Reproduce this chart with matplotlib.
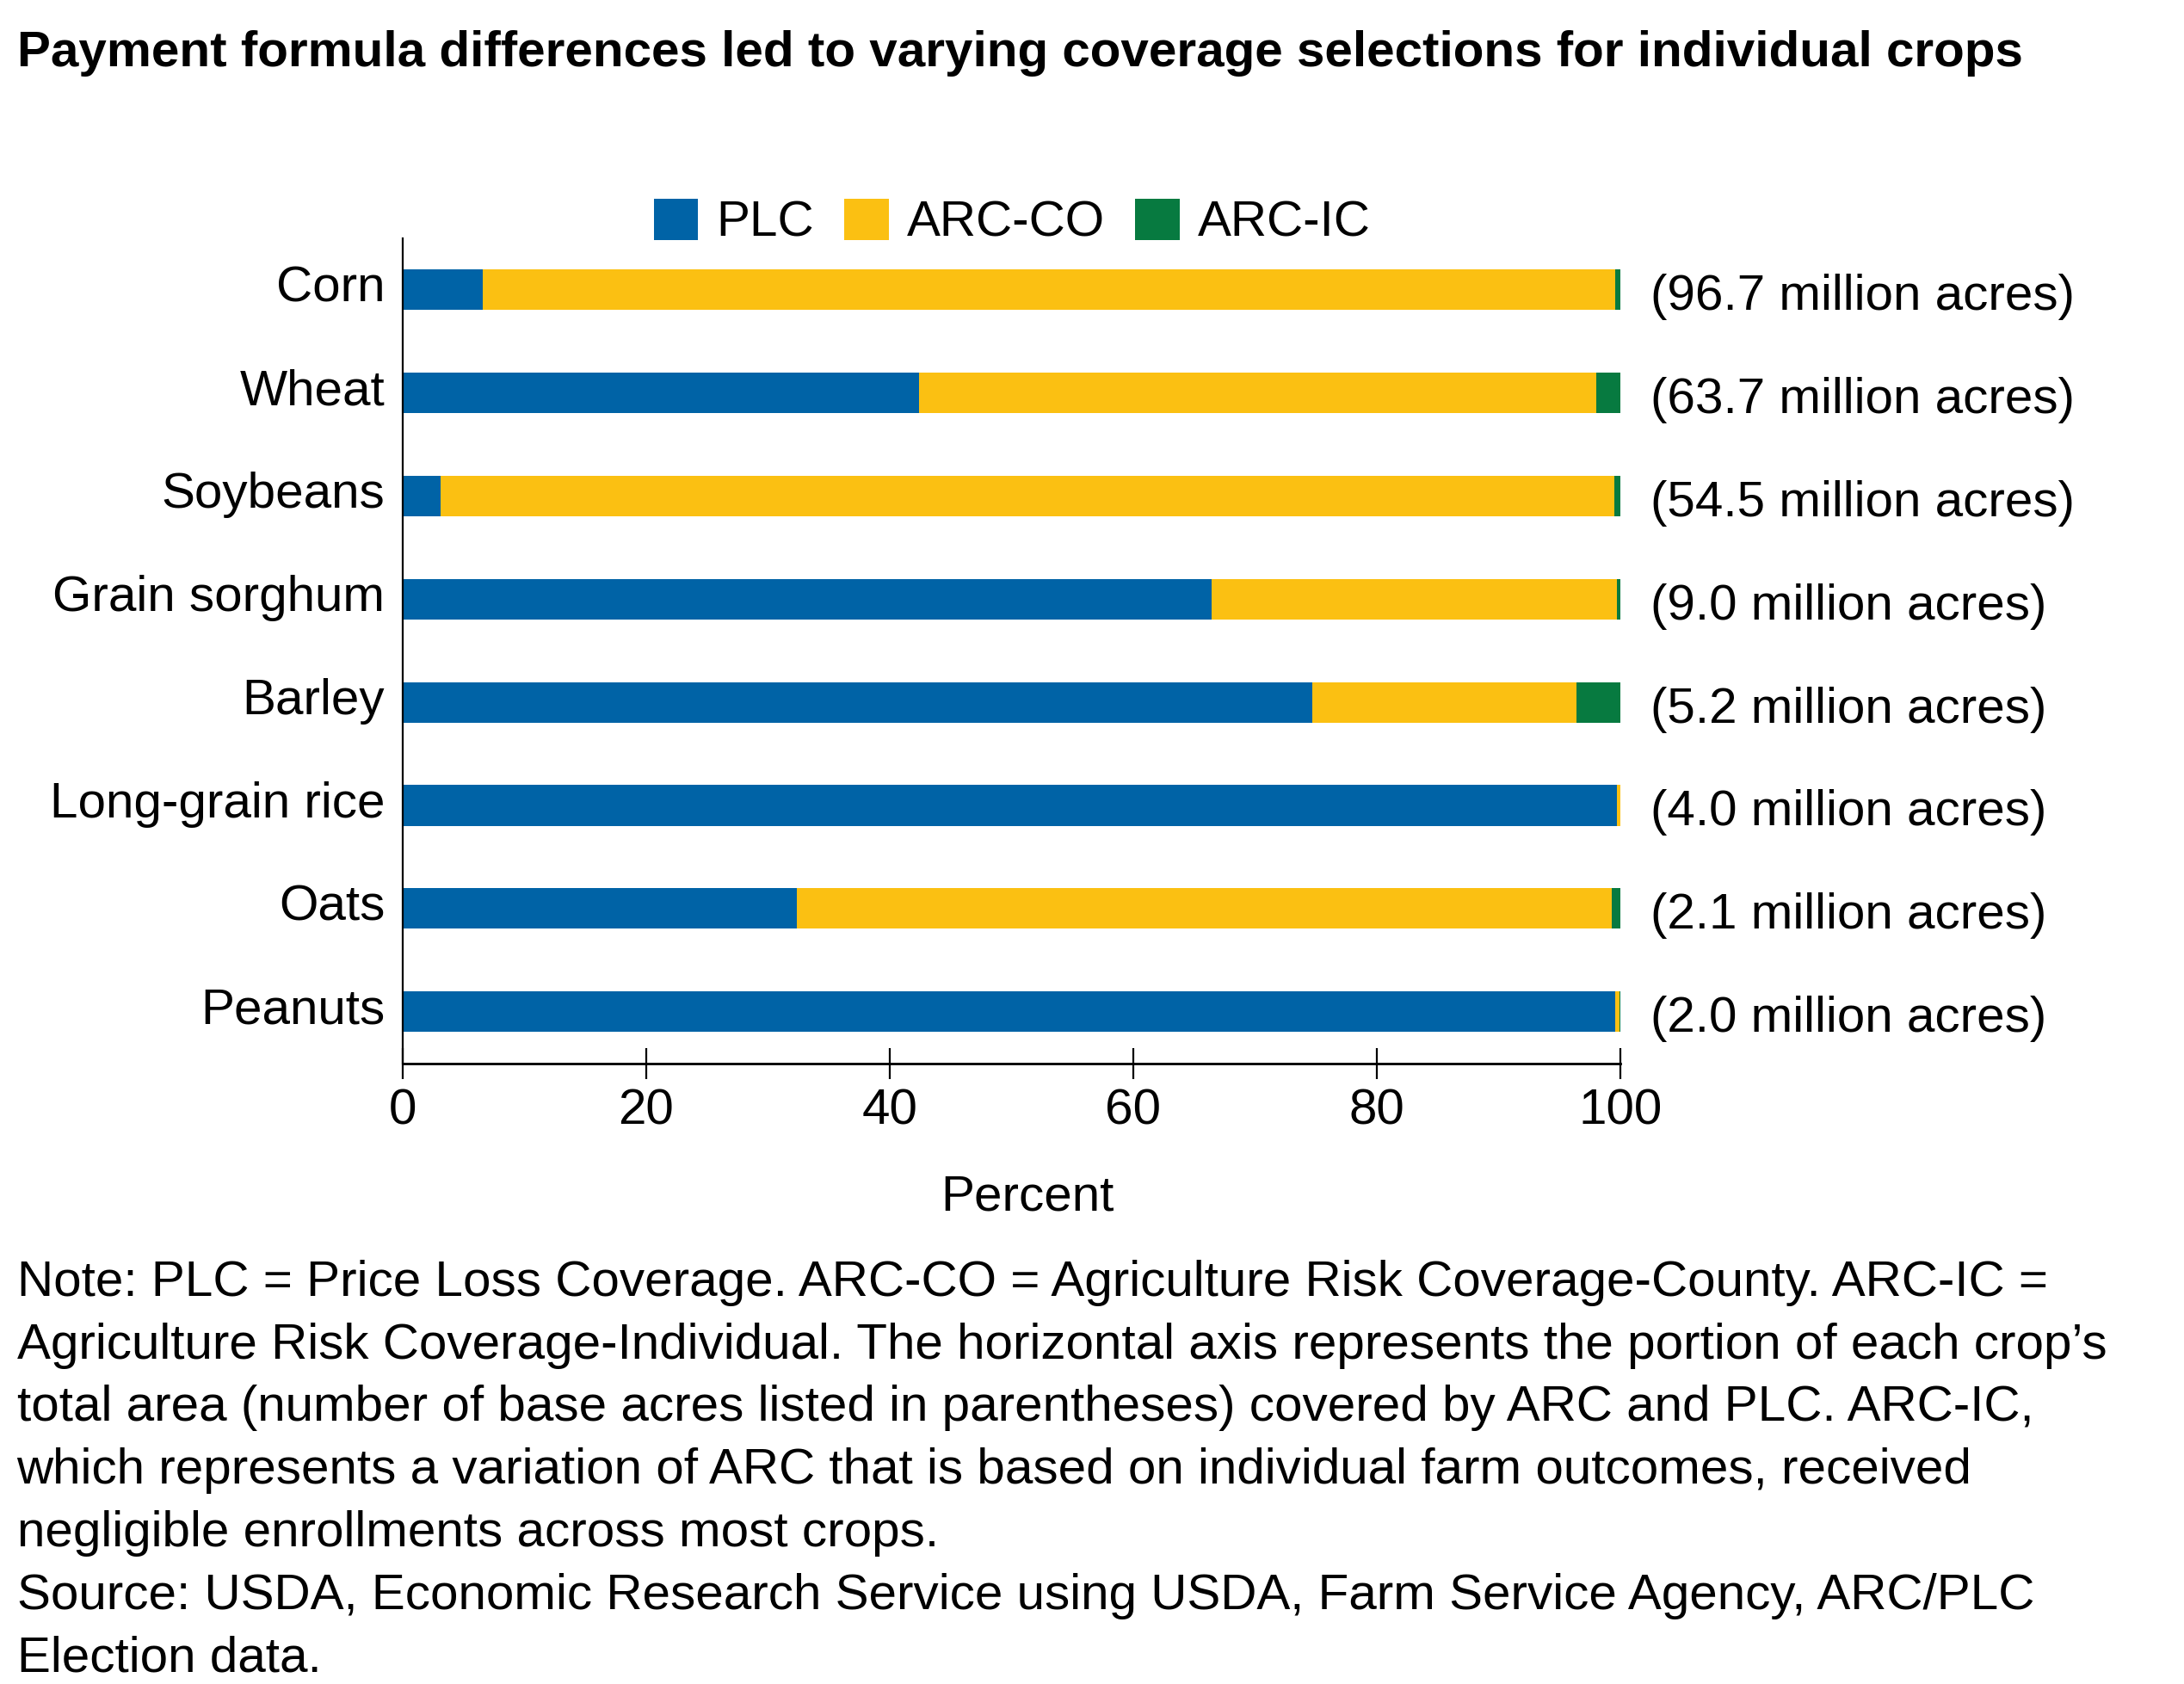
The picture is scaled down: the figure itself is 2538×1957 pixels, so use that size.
import matplotlib
matplotlib.use('Agg')
import matplotlib.pyplot as plt
import matplotlib.transforms as mtransforms
import numpy as np

plt.rcParams['font.family'] = ['Liberation Sans', 'DejaVu Sans']

crops = ['Corn', 'Wheat', 'Soybeans', 'Grain sorghum', 'Barley',
         'Long-grain rice', 'Oats', 'Peanuts']
plc = [6.6, 42.4, 3.1, 66.4, 74.7, 99.7, 32.4, 99.6]
arc_co = [93.0, 55.6, 96.4, 33.3, 21.7, 0.3, 66.9, 0.3]
arc_ic = [0.4, 2.0, 0.5, 0.3, 3.6, 0.0, 0.7, 0.1]
acres = ['(96.7 million acres)', '(63.7 million acres)', '(54.5 million acres)',
         '(9.0 million acres)', '(5.2 million acres)', '(4.0 million acres)',
         '(2.1 million acres)', '(2.0 million acres)']

title = 'Payment formula differences led to varying coverage selections for individual crops'
note_lines = [
    'Note: PLC = Price Loss Coverage. ARC-CO = Agriculture Risk Coverage-County. ARC-IC =',
    'Agriculture Risk Coverage-Individual. The horizontal axis represents the portion of each crop\u2019s',
    'total area (number of base acres listed in parentheses) covered by ARC and PLC. ARC-IC,',
    'which represents a variation of ARC that is based on individual farm outcomes, received',
    'negligible enrollments across most crops.',
    'Source: USDA, Economic Research Service using USDA, Farm Service Agency, ARC/PLC',
    'Election data.',
]

blue = '#0063A6'
yellow = '#FBC012'
green = '#077A40'

fig = plt.figure(figsize=(12.69, 9.785), dpi=200)
ax = fig.add_axes([0.1844, 0.3686, 0.5575, 0.49])

y = np.arange(len(crops))
plc = np.array(plc)
arc_co = np.array(arc_co)
arc_ic = np.array(arc_ic)
h = 0.394
ax.barh(y, plc, height=h, color=blue, label='PLC')
ax.barh(y, arc_co, left=plc, height=h, color=yellow, label='ARC-CO')
ax.barh(y, arc_ic, left=plc + arc_co, height=h, color=green, label='ARC-IC')

ax.set_xlim(0, 100)
ax.set_ylim(7.5, -0.5)
ax.set_yticks(y)
ax.set_yticklabels(crops, fontsize=21)
ax.tick_params(axis='y', length=0, pad=7.5)
# crop names sit a little above the bar centres
shift = mtransforms.ScaledTranslation(0, 0.035, fig.dpi_scale_trans)
for lab in ax.get_yticklabels():
    lab.set_transform(lab.get_transform() + shift)

ax.set_xticks([0, 20, 40, 60, 80, 100])
ax.tick_params(axis='x', direction='inout', length=13, width=0.8, labelsize=21, pad=4)
ax.set_xlabel('Percent', fontsize=21)
ax.xaxis.set_label_coords(0.513, -0.134)
for s in ['top', 'right']:
    ax.spines[s].set_visible(False)
ax.spines['left'].set_linewidth(0.8)
ax.spines['bottom'].set_linewidth(1.0)

for i, lab in enumerate(acres):
    ax.text(102.5, i + 0.07, lab, fontsize=21, ha='left', va='center', clip_on=False)

fig.legend(loc='center', bbox_to_anchor=(0.4635, 0.8677), ncol=3, frameon=False,
           fontsize=21, handlelength=0.88, handleheight=0.88, handletextpad=0.37,
           columnspacing=0.6, borderpad=0, borderaxespad=0)

fig.text(0.0077, 1 - 77 / 1957, title, fontsize=21, fontweight='bold', ha='left', va='baseline')

y0 = 1 - 1506 / 1957
dy = 72.7 / 1957
for i, line in enumerate(note_lines):
    fig.text(0.0077, y0 - i * dy, line, fontsize=21, ha='left', va='baseline')

fig.savefig('out.png', dpi=200)
